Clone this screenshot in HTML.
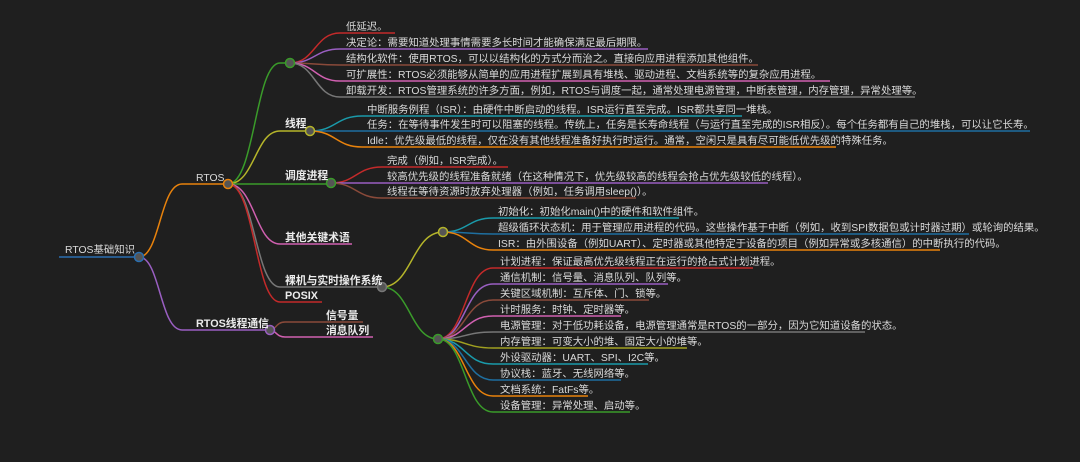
<!DOCTYPE html>
<html><head><meta charset="utf-8"><style>
html,body{margin:0;padding:0;background:#1f1f1f;width:1080px;height:462px;overflow:hidden}
svg text{font-family:"Liberation Sans","Noto Sans CJK SC",sans-serif;font-size:10.4px;fill:#dadada}
.b{font-weight:bold;fill:#ececec;font-size:10.8px}
path{fill:none;stroke-width:1.5}
circle{stroke-width:1.5;fill:#555}
</style></head><body>
<svg width="1080" height="462" xmlns="http://www.w3.org/2000/svg">
<path d="M59 257H139" stroke="#2a6fb0" stroke-width="3"/>
<path d="M139 257C160 257 160 184 182 184H228" stroke="#e8820c"/>
<path d="M139 257C160 257 160 330 182 330H270" stroke="#9a5fc2"/>
<path d="M228 184C255 184 255 63 280 63H290" stroke="#3a9b2a"/>
<path d="M228 184C255 184 255 131 280 131H310" stroke="#b5b52a"/>
<path d="M228 184H331" stroke="#3a9b2a"/>
<path d="M228 184C255 184 255 244 280 244H352" stroke="#d060b0"/>
<path d="M228 184C255 184 255 287 280 287H382" stroke="#777"/>
<path d="M228 184C255 184 255 302 280 302H322" stroke="#c42a2a"/>
<path d="M290 63C315 63 315 33 340 33H395" stroke="#c42a2a"/>
<path d="M290 63C315 63 315 49 340 49H648" stroke="#9a5fc2"/>
<path d="M290 63C315 63 315 65 340 65H758" stroke="#8a4a3a"/>
<path d="M290 63C315 63 315 81 340 81H830" stroke="#d060b0"/>
<path d="M290 63C315 63 315 97 340 97H915" stroke="#777"/>
<path d="M310 131C336 131 336 116 362 116H742" stroke="#1a9aaa"/>
<path d="M310 131H1030" stroke="#1f6fa0"/>
<path d="M310 131C336 131 336 147 362 147H836" stroke="#e8820c"/>
<path d="M331 183C356 183 356 167 382 167H508" stroke="#c42a2a"/>
<path d="M331 183H768" stroke="#9a5fc2"/>
<path d="M331 183C356 183 356 198 382 198H636" stroke="#8a4a3a"/>
<path d="M270 330C276 330 276 322 285 322H363" stroke="#8a4a3a"/>
<path d="M270 330C276 330 276 337 285 337H373" stroke="#d060b0"/>
<path d="M382 287C412 287 412 232 443 232" stroke="#b5b52a"/>
<path d="M382 287C410 287 410 339 438 339" stroke="#3a9b2a"/>
<path d="M443 232C468 232 468 218 493 218H679" stroke="#1a9aaa"/>
<path d="M443 232C468 232 468 234 493 234H969" stroke="#1f6fa0"/>
<path d="M443 232C468 232 468 250 493 250H940" stroke="#e8820c"/>
<path d="M438 339C465 339 465 268 493 268H753" stroke="#c42a2a"/>
<path d="M438 339C465 339 465 284 493 284H668" stroke="#9a5fc2"/>
<path d="M438 339C465 339 465 300 493 300H649" stroke="#8a4a3a"/>
<path d="M438 339C465 339 465 316 493 316H621" stroke="#d060b0"/>
<path d="M438 339C465 339 465 332 493 332H865" stroke="#777"/>
<path d="M438 339C465 339 465 348 493 348H687" stroke="#a0a020"/>
<path d="M438 339C465 339 465 364 493 364H648" stroke="#1a9aaa"/>
<path d="M438 339C465 339 465 380 493 380H621" stroke="#1f6fa0"/>
<path d="M438 339C465 339 465 396 493 396H588" stroke="#e8820c"/>
<path d="M438 339C465 339 465 412 493 412H630" stroke="#3a9b2a"/>
<circle cx="139" cy="257" r="4.5" stroke="#2a6fb0"/>
<circle cx="228" cy="184" r="4.5" stroke="#e8820c"/>
<circle cx="270" cy="330" r="4.5" stroke="#9a5fc2"/>
<circle cx="290" cy="63" r="4.5" stroke="#3a9b2a"/>
<circle cx="310" cy="131" r="4.5" stroke="#b5b52a"/>
<circle cx="331" cy="183" r="4.5" stroke="#3a9b2a"/>
<circle cx="382" cy="287" r="4.5" stroke="#777"/>
<circle cx="443" cy="232" r="4.5" stroke="#b5b52a"/>
<circle cx="438" cy="339" r="4.5" stroke="#3a9b2a"/>
<text x="65" y="253">RTOS基础知识</text>
<text x="196" y="181">RTOS</text>
<text x="196" y="327" class="b">RTOS线程通信</text>
<text x="285" y="127" class="b">线程</text>
<text x="285" y="179" class="b">调度进程</text>
<text x="285" y="241" class="b">其他关键术语</text>
<text x="285" y="284" class="b">裸机与实时操作系统</text>
<text x="285" y="299" class="b">POSIX</text>
<text x="326" y="319" class="b">信号量</text>
<text x="326" y="334" class="b">消息队列</text>
<text x="346" y="30">低延迟。</text>
<text x="346" y="46">决定论：需要知道处理事情需要多长时间才能确保满足最后期限。</text>
<text x="346" y="62">结构化软件：使用RTOS，可以以结构化的方式分而治之。直接向应用进程添加其他组件。</text>
<text x="346" y="78">可扩展性：RTOS必须能够从简单的应用进程扩展到具有堆栈、驱动进程、文档系统等的复杂应用进程。</text>
<text x="346" y="94">卸载开发：RTOS管理系统的许多方面，例如，RTOS与调度一起，通常处理电源管理，中断表管理，内存管理，异常处理等。</text>
<text x="367" y="113">中断服务例程（ISR）：由硬件中断启动的线程。ISR运行直至完成。ISR都共享同一堆栈。</text>
<text x="367" y="128">任务：在等待事件发生时可以阻塞的线程。传统上，任务是长寿命线程（与运行直至完成的ISR相反）。每个任务都有自己的堆栈，可以让它长寿。</text>
<text x="367" y="144">Idle：优先级最低的线程，仅在没有其他线程准备好执行时运行。通常，空闲只是具有尽可能低优先级的特殊任务。</text>
<text x="387" y="164">完成（例如，ISR完成）。</text>
<text x="387" y="180">较高优先级的线程准备就绪（在这种情况下，优先级较高的线程会抢占优先级较低的线程）。</text>
<text x="387" y="195">线程在等待资源时放弃处理器（例如，任务调用sleep()）。</text>
<text x="498" y="215">初始化：初始化main()中的硬件和软件组件。</text>
<text x="498" y="231">超级循环状态机：用于管理应用进程的代码。这些操作基于中断（例如，收到SPI数据包或计时器过期）或轮询的结果。</text>
<text x="498" y="247">ISR：由外围设备（例如UART）、定时器或其他特定于设备的项目（例如异常或多核通信）的中断执行的代码。</text>
<text x="500" y="265">计划进程：保证最高优先级线程正在运行的抢占式计划进程。</text>
<text x="500" y="281">通信机制：信号量、消息队列、队列等。</text>
<text x="500" y="297">关键区域机制：互斥体、门、锁等。</text>
<text x="500" y="313">计时服务：时钟、定时器等。</text>
<text x="500" y="329">电源管理：对于低功耗设备，电源管理通常是RTOS的一部分，因为它知道设备的状态。</text>
<text x="500" y="345">内存管理：可变大小的堆、固定大小的堆等。</text>
<text x="500" y="361">外设驱动器：UART、SPI、I2C等。</text>
<text x="500" y="377">协议栈：蓝牙、无线网络等。</text>
<text x="500" y="393">文档系统：FatFs等。</text>
<text x="500" y="409">设备管理：异常处理、启动等。</text>
</svg>
</body></html>
